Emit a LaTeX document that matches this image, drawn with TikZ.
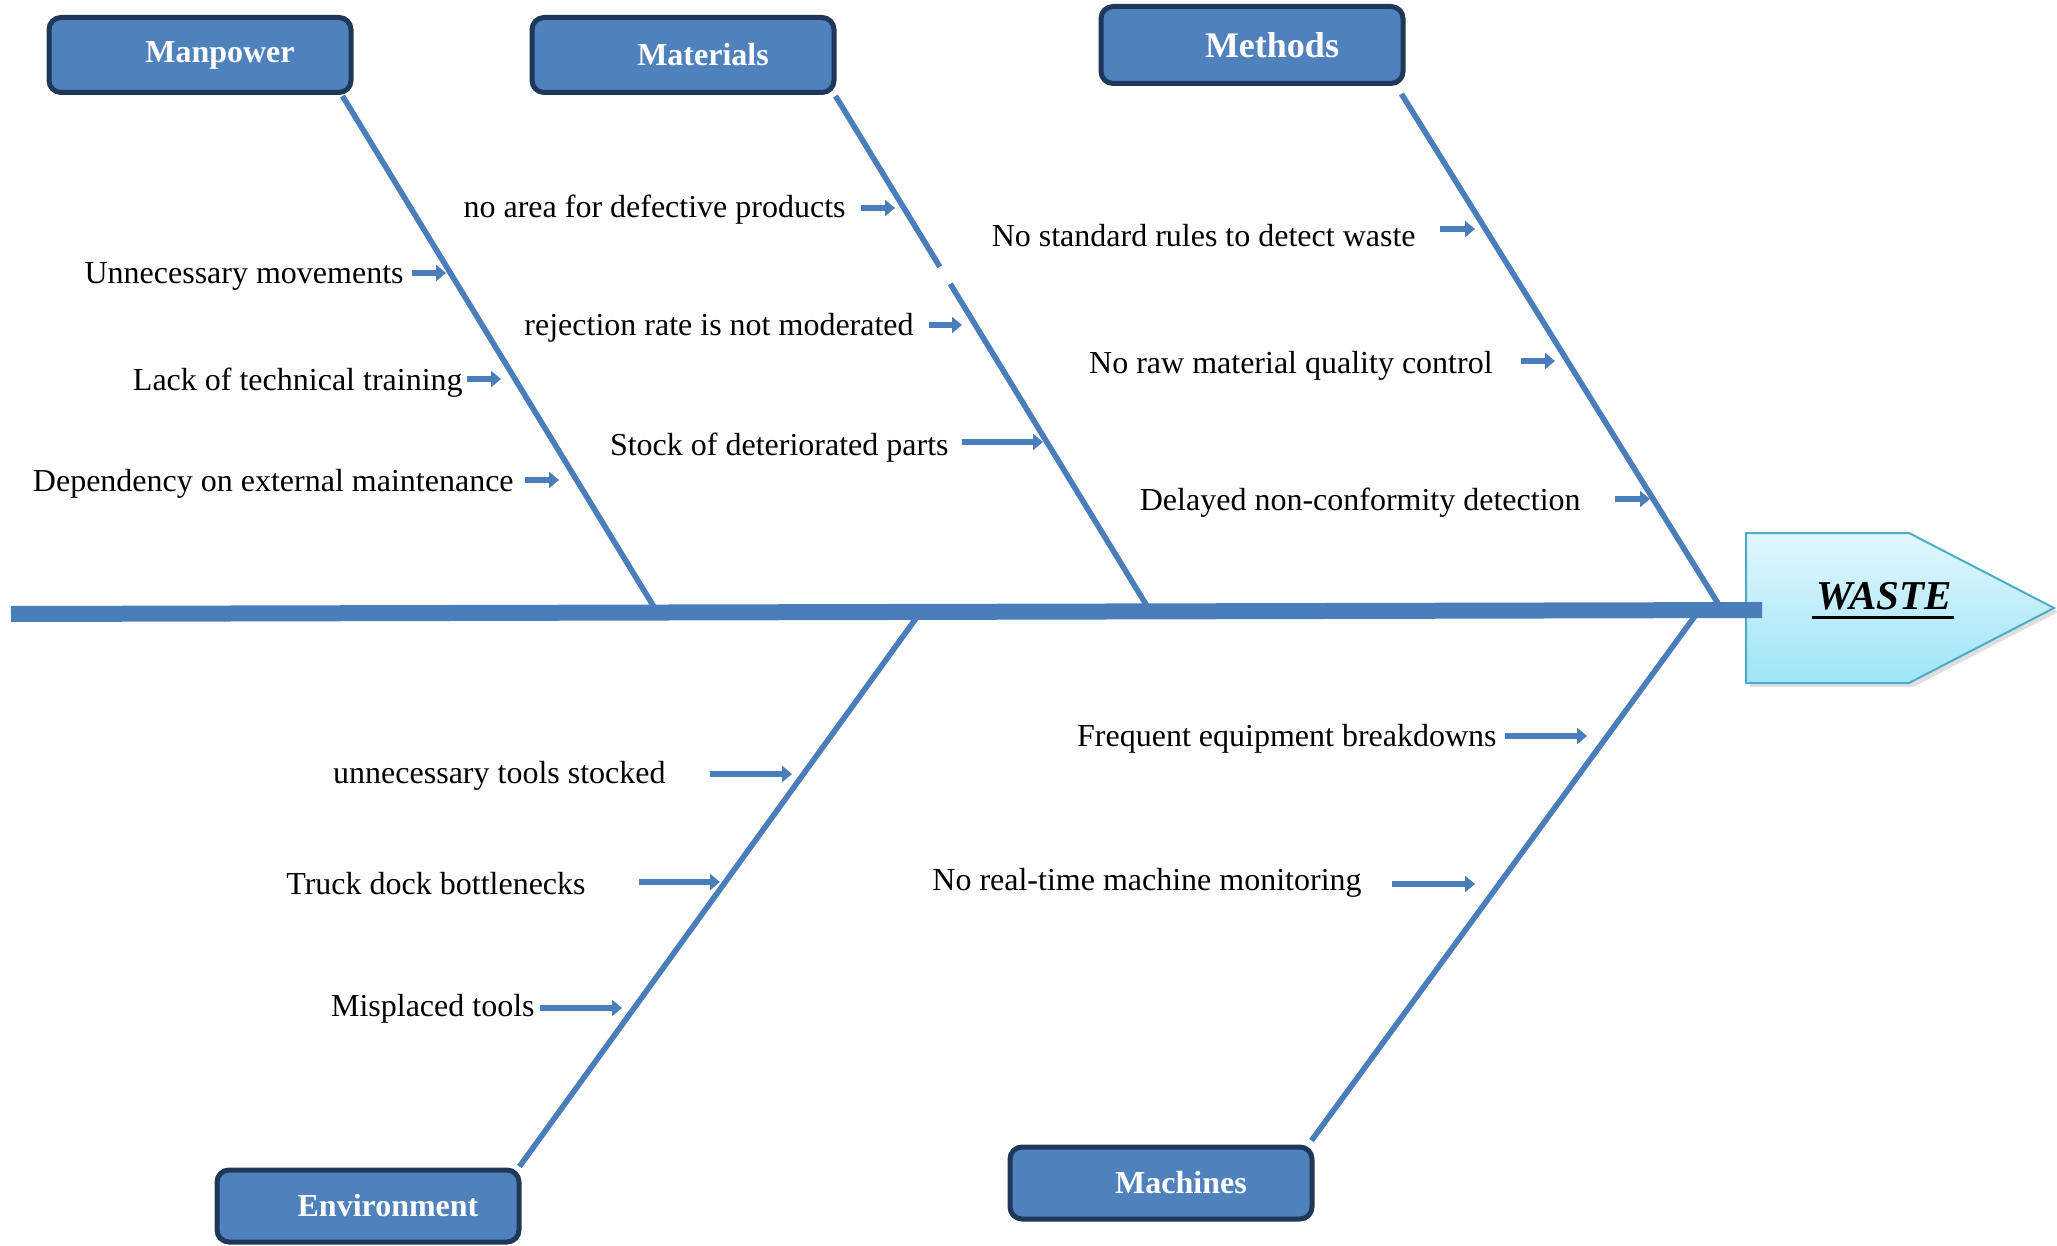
\documentclass[tikz,border=0pt]{standalone}
\usepackage{fontspec}
\setmainfont{Liberation Serif}
\usetikzlibrary{arrows.meta,shadows,calc}
\definecolor{lineblue}{HTML}{4A7EBB}
\definecolor{boxfill}{HTML}{4F81BD}
\definecolor{boxdraw}{HTML}{1F3859}
\definecolor{wastetop}{HTML}{E2F7FD}
\definecolor{wastebot}{HTML}{9EE4F8}
\definecolor{wastedraw}{HTML}{4BACC6}
\newcommand\causeitem[7]{%
  \node[cause] (#1) at (#2,#3) {#4};
  \coordinate (#1s) at (#5,#7);
  \coordinate (#1e) at (#6,#7);
  \draw[causearrow] (#1s) -- (#1e);}
\begin{document}
\begin{tikzpicture}[x=0.5pt,y=-0.5pt,
  catbox/.style={rectangle, rounded corners=6pt, fill=boxfill, draw=boxdraw, line width=2.5pt,
    minimum width=151pt, minimum height=37.5pt, text=white,
    font=\fontsize{16pt}{19pt}\selectfont\bfseries, inner sep=0pt},
  branch/.style={draw=lineblue, line width=2.8pt},
  spine/.style={draw=lineblue, line width=8pt},
  cause/.style={font=\fontsize{16pt}{19pt}\selectfont, anchor=mid east, inner sep=0pt, yshift=-3pt},
  causearrow/.style={draw=lineblue, line width=3.4pt, -{Triangle[length=5pt,width=8pt]}},
]
\useasboundingbox (0,0) rectangle (2057,1246);

% effect shape
\shade[top color=wastetop, bottom color=wastebot, draw=wastedraw, line width=1pt,
  drop shadow={shadow xshift=2pt, shadow yshift=-2pt, opacity=0.25}]
  (1746,533) -- (1909,533) -- (2054,608) -- (1909,683) -- (1746,683) -- cycle;
\node[inner sep=0pt, font=\fontsize{20.5pt}{24pt}\selectfont\bfseries\itshape] (waste) at (1884,596) {WASTE};
\draw[line width=1.6pt] ([xshift=-2pt,yshift=-4pt]waste.base west) -- ([xshift=1pt,yshift=-4pt]waste.base east);

% category boxes
\node[catbox] (man) at (200,55) {\hspace*{20pt}Manpower};
\node[catbox] (mat) at (683,55) {\hspace*{20pt}Materials};
\node[catbox, minimum height=38.5pt, font=\fontsize{18pt}{21pt}\selectfont\bfseries] (meth) at (1252,45) {\hspace*{20pt}Methods};
\node[catbox, minimum height=36pt] (env) at (368,1206) {\hspace*{20pt}Environment};
\node[catbox, minimum height=36pt] (mach) at (1161,1183) {\hspace*{20pt}Machines};

% spine
\coordinate (tail) at (11,614);
\coordinate (head) at (1762,610);
\coordinate (j1) at (654,607);
\coordinate (j2) at (1147,606);
\coordinate (j3) at (1719,605);
\coordinate (j4) at (917,617);
\coordinate (j5) at (1695,616);

% branches
\draw[branch] ([xshift=-5.5pt,yshift=-0.5pt]man.south east) -- (j1);
\coordinate (mattop) at ([xshift=-0.5pt,yshift=-0.5pt]mat.south east);
\draw[branch] (mattop) -- (j2);
\draw[white, line width=4pt] ($(mattop)!0.335!(j2)$) -- ($(mattop)!0.368!(j2)$);
\draw[branch] ([xshift=-2pt,yshift=-4pt]meth.south east) -- (j3);
\draw[branch] ([xshift=-1pt,yshift=0.5pt]env.north east) -- (j4);
\draw[branch] ([xshift=-1.5pt,yshift=2pt]mach.north east) -- (j5);
\draw[spine] (tail) -- (head);

% causes: Manpower
\causeitem{c1}{404}{273}{Unnecessary movements}{412}{446}{273}
\causeitem{c2}{463}{380}{Lack of technical training}{467}{501}{379}
\causeitem{c3}{514}{481}{Dependency on external maintenance}{525}{559}{480}
% Materials
\causeitem{c4}{846}{207}{no area for defective products}{861}{895}{208}
\causeitem{c5}{914}{325}{rejection rate is not moderated}{929}{962}{325}
\causeitem{c6}{949}{445}{Stock of deteriorated parts}{962}{1043}{442}
% Methods
\causeitem{c7}{1416}{236}{No standard rules to detect waste}{1440}{1475}{229}
\causeitem{c8}{1493}{363}{No raw material quality control}{1521}{1555}{361}
\causeitem{c9}{1581}{500}{Delayed non-conformity detection}{1615}{1650}{499}
% Environment
\causeitem{c10}{666}{773}{unnecessary tools stocked}{710}{792}{774}
\causeitem{c11}{586}{884}{Truck dock bottlenecks}{639}{720}{882}
\causeitem{c12}{535}{1006}{Misplaced tools}{540}{622}{1008}
% Machines
\causeitem{c13}{1497}{736}{Frequent equipment breakdowns}{1505}{1587}{736}
\causeitem{c14}{1362}{880}{No real-time machine monitoring}{1392}{1475}{884}
\end{tikzpicture}
\end{document}
